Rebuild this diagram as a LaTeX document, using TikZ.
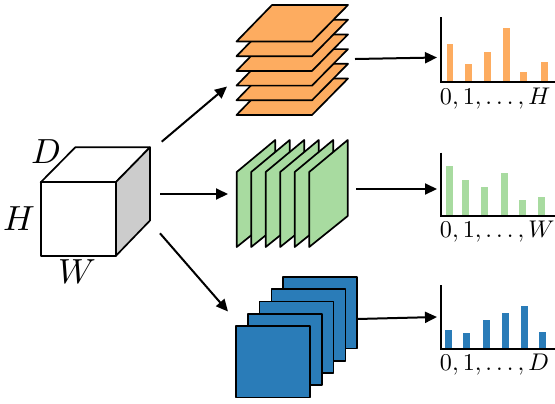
\documentclass[tikz,border=0pt]{standalone}
\usetikzlibrary{arrows.meta}
\definecolor{orng}{RGB}{253,172,96}
\definecolor{grn}{RGB}{168,219,160}
\definecolor{blu}{RGB}{42,124,184}
\definecolor{cubegray}{RGB}{204,204,204}
\begin{document}
\begin{tikzpicture}[x=1bp,y=-1bp,
  outl/.style={draw=black,line width=1.7bp,line join=round},
  arr/.style={line width=2bp,-{Triangle[length=12bp,width=11bp]}},
  axisline/.style={line width=2bp},
  bigl/.style={inner sep=0pt,anchor=base,scale=3.5},
  histl/.style={inner sep=0pt,anchor=base west,scale=2.42}]
\useasboundingbox (0,0) rectangle (555,403);
% cube
\filldraw[outl,fill=white] (40.7,182.3) -- (75.3,147.3) -- (150,147.3) -- (115.7,182.3) -- cycle;
\filldraw[outl,fill=cubegray] (115.7,182.3) -- (150,147.3) -- (150,220.5) -- (115.7,256) -- cycle;
\filldraw[outl,fill=white] (40.7,182.3) rectangle (115.7,256);
\node[bigl] (lD) at (46,163.3) {$D$};
\node[bigl] (lH) at (19,230) {$H$};
\node[bigl] (lW) at (77,283.3) {$W$};
% orange stack
\foreach \k in {5,4,...,0}{
  \filldraw[outl,fill=orng] (272,5+14.7*\k) -- (348,5+14.7*\k) -- (312,41.5+14.7*\k) -- (236.5,41.5+14.7*\k) -- cycle;
}
% green stack
\foreach \i in {0,...,5}{
  \filldraw[outl,fill=grn] (236.7+14.5*\i,247) -- (236.7+14.5*\i,172) -- (275.2+14.5*\i,140) -- (275.2+14.5*\i,216) -- cycle;
}
% blue stack
\foreach \i in {4,3,...,0}{
  \filldraw[outl,fill=blu] (236+11.8*\i,326-12.25*\i) rectangle (310+11.8*\i,397.5-12.25*\i);
}
% arrows endpoints
\coordinate (a1s) at (161.7,141.7); \coordinate (a1e) at (227,86.5);
\coordinate (a2s) at (160,194); \coordinate (a2e) at (228,194);
\coordinate (a3s) at (160,233.3); \coordinate (a3e) at (228,311.5);
\coordinate (b1s) at (355,59); \coordinate (b1e) at (437,57.5);
\coordinate (b2s) at (356,189); \coordinate (b2e) at (437,189);
\coordinate (b3s) at (357,319); \coordinate (b3e) at (437,317);
\draw[arr] (a1s) -- (a1e);
\draw[arr] (a2s) -- (a2e);
\draw[arr] (a3s) -- (a3e);
\draw[arr] (b1s) -- (b1e);
\draw[arr] (b2s) -- (b2e);
\draw[arr] (b3s) -- (b3e);
% histogram H
\foreach \x/\t in {446.7/44.3, 465/64.3, 484.3/52.3, 503/28.3, 520/72, 541/62.3}{
  \fill[orng] (\x,\t) rectangle (\x+6.7,82);
}
\draw[axisline] (441,17.3) -- (441,82) -- (555,82);
\node[histl] (hH) at (439.5,104.3) {$0,1,\ldots,H$};
% histogram W
\foreach \x/\t in {446/166, 462.3/180, 481/187.3, 501.3/173, 519/200, 538.3/197.3}{
  \fill[grn] (\x,\t) rectangle (\x+6.7,216);
}
\draw[axisline] (441,152.7) -- (441,216) -- (555,216);
\node[histl] (hW) at (439.5,237.7) {$0,1,\ldots,W$};
% histogram D
\foreach \x/\t in {445/330, 463.3/332.7, 483/320.3, 502/313, 521.3/305.7, 539.3/332}{
  \fill[blu] (\x,\t) rectangle (\x+6.7,349.3);
}
\draw[axisline] (441,285) -- (441,349.3) -- (555,349.3);
\node[histl] (hD) at (439.5,370) {$0,1,\ldots,D$};
\end{tikzpicture}
\end{document}
